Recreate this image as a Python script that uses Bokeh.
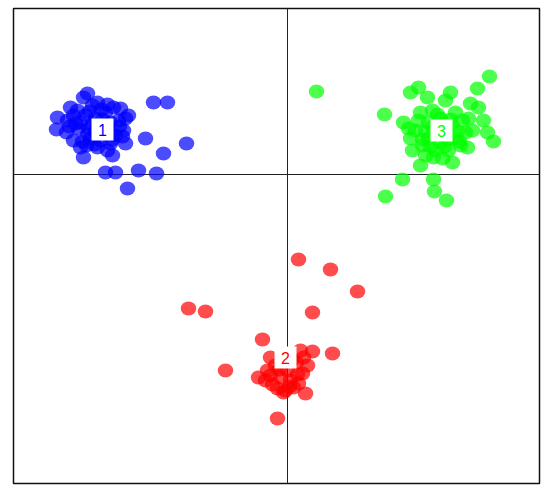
from bokeh.plotting import figure
from bokeh.models import Range1d, Span, ColumnDataSource
from bokeh.embed import file_html
from bokeh.resources import INLINE
from bokeh.core.properties import value

# Group 1 (blue)
g1_x = [-4.00, -2.68, -2.40, -4.60, -4.62, -3.18, -2.84, -2.02, -2.48, -3.24, -4.08, -3.50,
        -3.64, -3.44, -2.98, -2.62, -3.20,
        -4.34, -3.80, -3.48, -3.34, -4.40, -4.28, -4.14, -3.80, -3.60, -3.28, -4.08, -4.20,
        -4.04, -3.84, -3.64, -3.98, -3.54, -3.44, -3.94, -4.18, -3.74, -3.38, -3.90, -4.14,
        -3.66, -3.84, -3.54, -4.02, -4.42, -3.24, -4.28,
        -3.90, -3.70, -3.56, -4.00, -3.80, -3.60, -3.96, -4.24, -3.36, -3.50, -3.86, -4.10,
        -3.72, -4.36, -3.30]
g1_y = [1.62, 1.44, 1.44, 1.14, 0.90, 1.18, 0.72, 0.62, 0.42, 0.62, 0.34, 0.38,
        0.04, 0.04, 0.08, 0.02, -0.28,
        1.34, 1.44, 1.34, 1.32, 1.08, 0.68, 0.54, 0.54, 0.48, 0.88, 1.54, 1.28,
        1.18, 1.12, 1.24, 0.92, 1.04, 0.78, 0.72, 0.92, 0.68, 1.08, 1.38, 1.04,
        0.94, 0.84, 0.62, 0.58, 0.84, 1.12, 1.18,
        1.00, 1.10, 0.86, 0.80, 0.96, 1.40, 1.26, 1.02, 0.96, 0.70, 0.60, 0.66,
        1.30, 0.96, 0.76]

# Group 2 (red)
g2_x = [0.22, 0.86, 1.40, -1.98, -1.64, 0.50, -0.50, 0.50, 0.90, -1.24, 0.36, -0.20,
        -0.58, -0.34, -0.20, -0.04, 0.12, 0.40, 0.30, -0.34, 0.26, -0.14, 0.06, -0.44,
        0.18, -0.24, 0.00, 0.22, -0.08,
        -0.16, 0.10, 0.20, -0.30, 0.04, -0.10, 0.32, -0.40]
g2_y = [-1.70, -1.90, -2.34, -2.68, -2.74, -2.76, -3.30, -3.54, -3.58, -3.92, -4.38, -4.88,
        -4.06, -4.02, -4.28, -4.32, -4.26, -3.82, -3.98, -3.66, -3.52, -4.06, -4.12, -4.12,
        -3.76, -3.82, -3.92, -4.18, -4.36,
        -3.90, -3.70, -4.00, -4.20, -4.24, -3.60, -3.66, -3.92]

# Group 3 (green)
g3_x = [0.58, 4.04, 1.94, 3.80, 2.46, 2.62, 2.80, 3.26, 3.16, 3.66, 3.82, 3.92, 4.00, 4.12,
        2.32, 2.46, 3.60, 2.66, 3.30, 2.92, 2.30, 2.92, 1.96, 2.94, 3.18,
        2.66, 2.90, 3.36, 3.50, 3.56, 3.46, 3.22, 2.96, 2.70, 2.56, 2.62, 2.82, 3.06, 3.30,
        3.36, 3.06, 2.82, 3.16, 3.62, 2.76, 3.10, 2.50, 3.70, 2.42,
        3.00, 3.20, 2.90, 3.12, 2.76, 3.40, 3.26, 2.86, 3.00, 3.44, 2.70, 3.14]
g3_y = [1.66, 1.96, 1.20, 1.72, 1.64, 1.74, 1.54, 1.64, 1.48, 1.42, 1.34, 1.08, 0.84, 0.66,
        1.04, 0.72, 0.54, 0.18, 0.24, 0.34, -0.10, -0.10, -0.44, -0.34, -0.52,
        1.24, 1.28, 1.24, 1.08, 0.84, 0.58, 0.48, 0.48, 0.58, 0.88, 1.08, 1.04, 1.12, 0.98,
        0.72, 0.64, 0.72, 0.88, 1.12, 0.38, 0.32, 0.48, 0.88, 0.92,
        0.80, 0.70, 0.96, 1.02, 0.86, 0.86, 1.10, 0.56, 1.20, 0.66, 0.70, 0.56]

group_labels = ["1", "2", "3"]
group_colors = ["#0000FF", "#FF0000", "#00FF00"]
center_x = [-3.70, -0.04, 3.08]
center_y = [0.90, -3.66, 0.88]

p = figure(width=544, height=488, output_backend="svg", toolbar_location=None,
           x_range=Range1d(-5.48, 5.04), y_range=Range1d(-6.18, 3.32),
           min_border_left=13, min_border_right=5, min_border_top=8, min_border_bottom=5)
p.xaxis.visible = False
p.yaxis.visible = False
p.xgrid.visible = False
p.ygrid.visible = False
p.outline_line_color = "#111111"
p.outline_line_width = 1.5
p.background_fill_color = "white"
p.border_fill_color = "white"

p.add_layout(Span(location=0, dimension="height", line_color="#222222", line_width=1, level="underlay"))
p.add_layout(Span(location=0, dimension="width", line_color="#222222", line_width=1, level="underlay"))

for xs, ys, c in [(g1_x, g1_y, group_colors[0]), (g2_x, g2_y, group_colors[1]), (g3_x, g3_y, group_colors[2])]:
    p.ellipse(x=xs, y=ys, width=0.31, height=0.28, fill_color=c, fill_alpha=0.7, line_color=None)

src = ColumnDataSource(dict(x=center_x, y=center_y, t=group_labels, c=group_colors))
p.rect(x="x", y="y", width=22, height=22, width_units="screen", height_units="screen",
       source=src, fill_color="white", line_color=None)
p.text(x="x", y="y", text="t", text_color="c", source=src, text_align="center",
       text_baseline="middle", text_font=value("Liberation Sans"), text_font_size="16px")

open("out.html", "w").write(file_html(p, INLINE))
